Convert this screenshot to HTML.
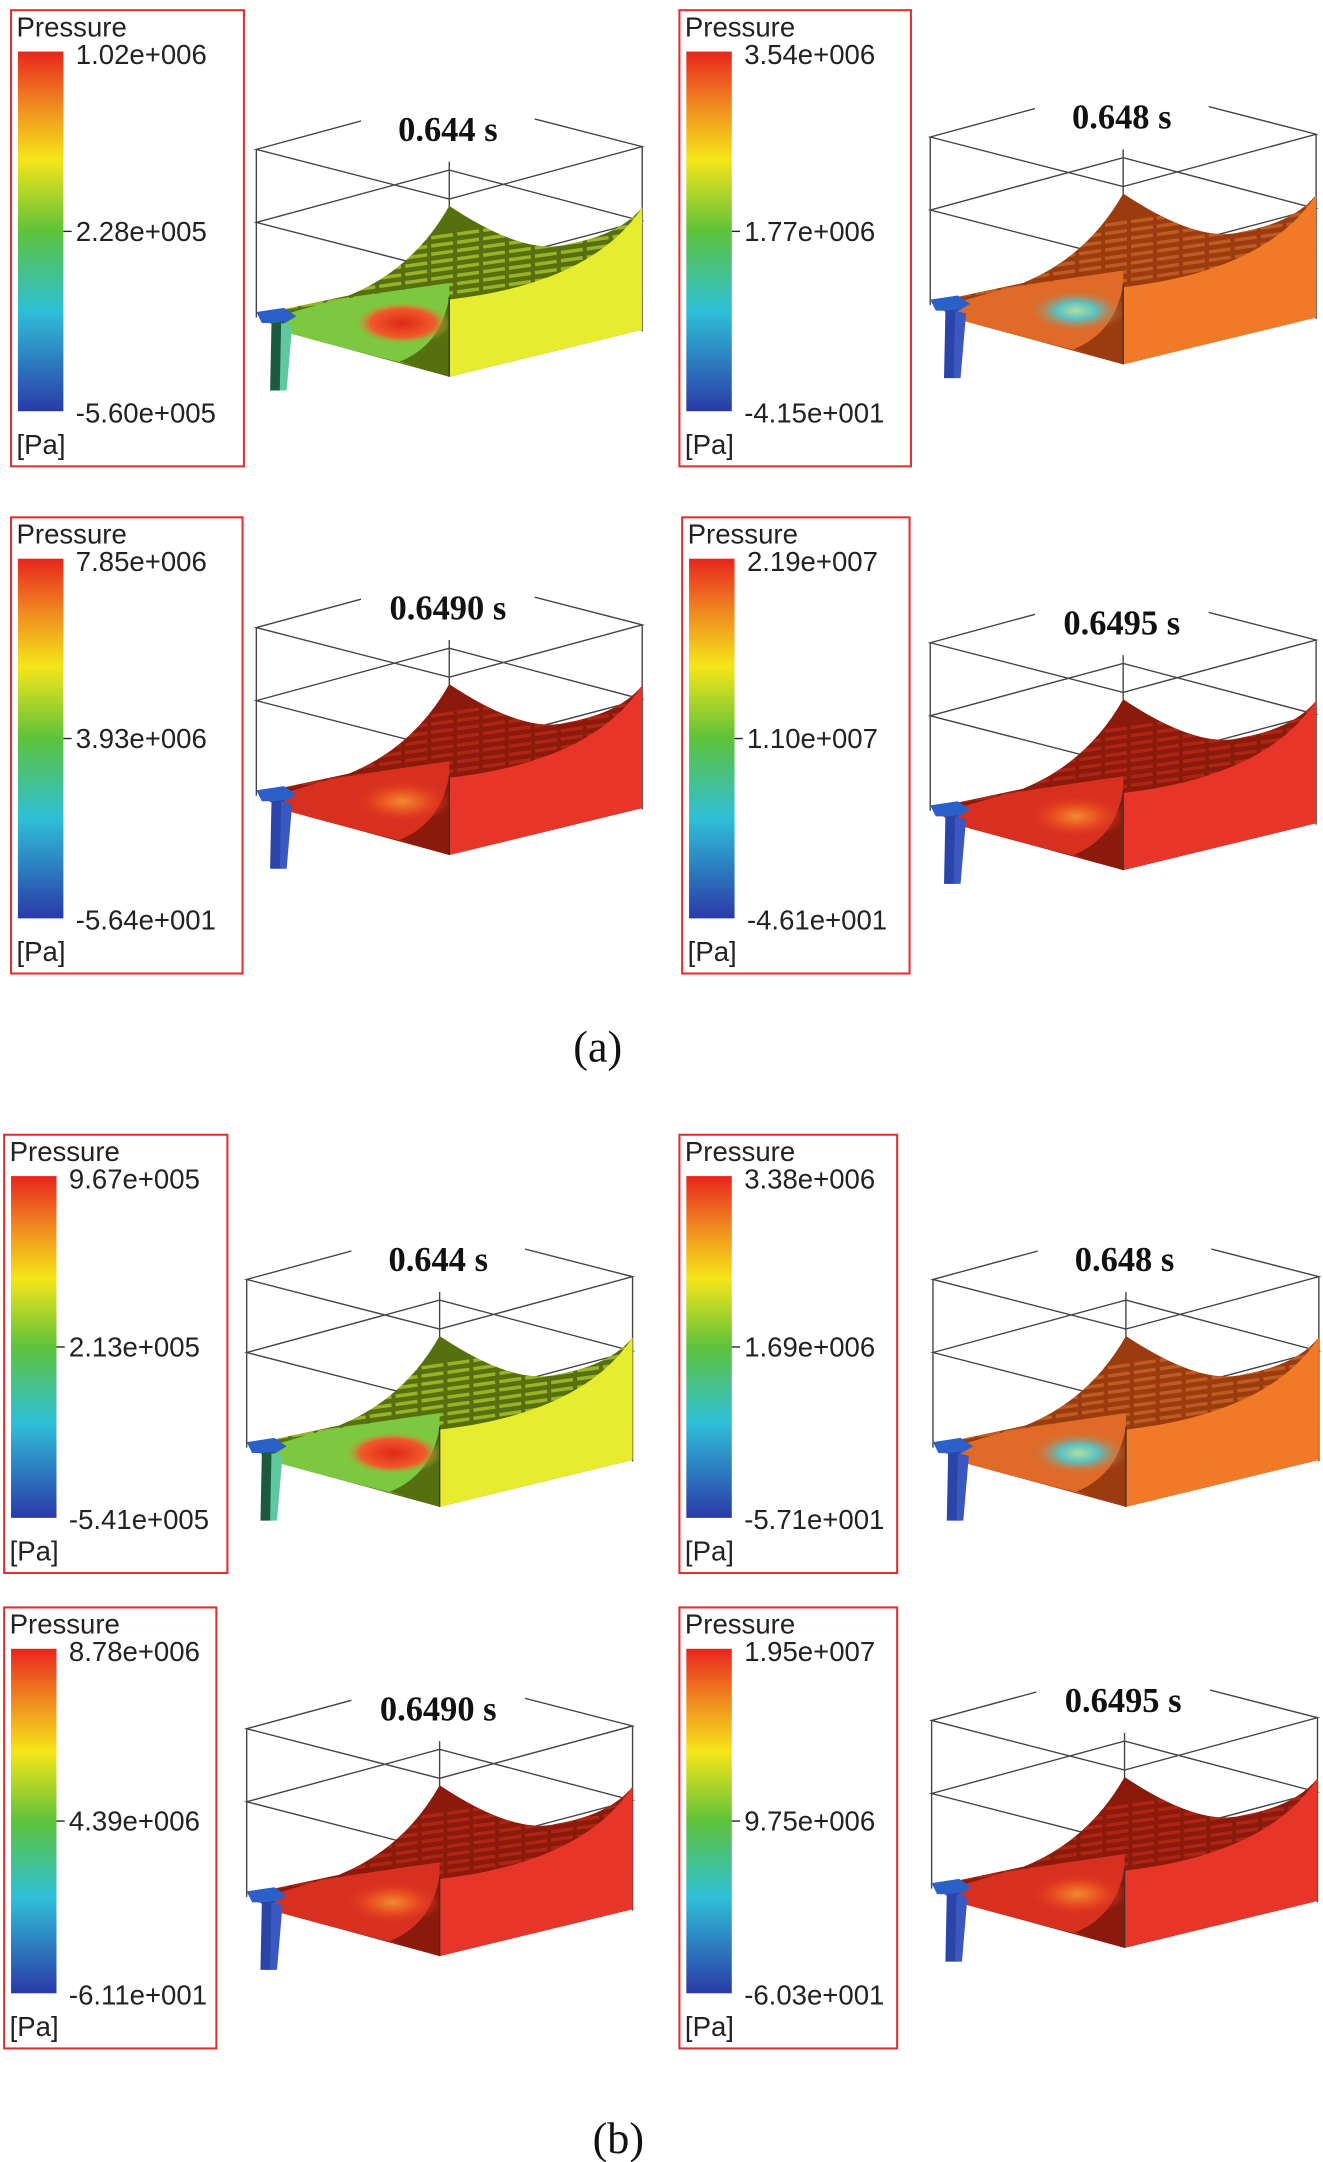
<!DOCTYPE html>
<html><head><meta charset="utf-8">
<style>
html,body{margin:0;padding:0;background:#fff;}
svg{display:block;}
.lab{font-family:"Liberation Sans",sans-serif;font-size:20px;fill:#222;}
.ttl{font-family:"Liberation Serif",serif;font-size:25px;font-weight:bold;fill:#111;}
.cap{font-family:"Liberation Serif",serif;font-size:32px;fill:#111;}
</style></head>
<body>
<svg id="fig" width="1323" height="2162" viewBox="0 0 960 1568" xmlns="http://www.w3.org/2000/svg">
<defs>
<linearGradient id="cbar" x1="0" y1="0" x2="0" y2="1">
<stop offset="0" stop-color="#e8251e"/><stop offset="0.15" stop-color="#f08a20"/>
<stop offset="0.3" stop-color="#f5e619"/><stop offset="0.5" stop-color="#5ec23a"/>
<stop offset="0.72" stop-color="#2fc0d8"/><stop offset="1" stop-color="#2a3aa8"/>
</linearGradient>
<radialGradient id="hotA"><stop offset="0" stop-color="#e02818"/><stop offset="0.65" stop-color="#f05a2a"/><stop offset="1" stop-color="#8ccc40" stop-opacity="0"/></radialGradient>
<radialGradient id="hotB"><stop offset="0" stop-color="#b0e0a0"/><stop offset="0.4" stop-color="#5cc0c0"/><stop offset="1" stop-color="#e06a28" stop-opacity="0"/></radialGradient>
<radialGradient id="hotC"><stop offset="0" stop-color="#f08a30"/><stop offset="0.5" stop-color="#e84a20"/><stop offset="1" stop-color="#d83020" stop-opacity="0"/></radialGradient>
<clipPath id="bowlclip"><path d="M187,228 L253,214 Q300,195 326,149 Q380,185 411,177 Q450,170 466,150 L466,239 L326,273 L205,240 Z"/></clipPath>
</defs>
<text class="cap" x="416" y="770">(a)</text>
<text class="cap" x="430" y="1562">(b)</text>
</svg>
<script>
const times=["0.644 s","0.648 s","0.6490 s","0.6495 s","0.644 s","0.648 s","0.6490 s","0.6495 s"];
const maxLabels=["1.02e+006","3.54e+006","7.85e+006","2.19e+007","9.67e+005","3.38e+006","8.78e+006","1.95e+007"];
const midLabels=["2.28e+005","1.77e+006","3.93e+006","1.10e+007","2.13e+005","1.69e+006","4.39e+006","9.75e+006"];
const minLabels=["-5.60e+005","-4.15e+001","-5.64e+001","-4.61e+001","-5.41e+005","-5.71e+001","-6.11e+001","-6.03e+001"];
const legendBoxes=[[8,7,169,331],[493,7,168,331],[8,375,168,331],[495,375,165,331],[3,823,162,318],[493,823,158,318],[3,1166,154,320],[493,1166,158,320]];
const offsets=[[0,0],[489,-9],[0,347],[489,358],[-7,820],[491,820],[-7,1146],[490,1140]];
const themes=[0,1,2,2,0,1,2,2];
const dark=["#56700f","#9a3c10","#8a1a0c"];
const stripe=["#b8d030","#d06828","#c02a18"];
const floorC=["#7cc840","#e06a28","#d83020"];
const face=["#e8ec30","#f07a28","#e8352a"];
const hot=["hotA","hotB","hotC"];
const NS="http://www.w3.org/2000/svg";
const svg=document.getElementById('fig');
function mk(tag,attrs,parent){const e=document.createElementNS(NS,tag);for(const k in attrs)e.setAttribute(k,attrs[k]);parent.appendChild(e);return e;}
function txt(cls,x,y,s,parent){const t=mk('text',{class:cls,x:x,y:y},parent);t.textContent=s;return t;}
for(let i=0;i<8;i++){
  const [lx,ly,lw,lh]=legendBoxes[i];
  const lg=mk('g',{},svg);
  
  
  mk('rect',{x:lx,y:ly,width:lw,height:lh,fill:'none',stroke:'#e03030','stroke-width':1.5},lg);
  const cy0=ly+30,cy1=ly+lh-40;
  const cb=mk('rect',{x:lx+5,y:cy0,width:33,height:cy1-cy0,fill:'url(#cbar)'},lg);
  
  
  txt('lab',lx+4,ly+19,'Pressure',lg);
  txt('lab',lx+47,cy0+9,maxLabels[i],lg);
  txt('lab',lx+47,(cy0+cy1)/2+7,midLabels[i],lg);
  txt('lab',lx+47,cy1+8,minLabels[i],lg);
  txt('lab',lx+4,ly+lh-9,'[Pa]',lg);
  mk('line',{x1:lx+38,y1:(cy0+cy1)/2,x2:lx+44,y2:(cy0+cy1)/2,stroke:'#222'},lg);
  const [dx,dy]=offsets[i];const th=themes[i];
  const g=mk('g',{transform:`translate(${dx},${dy})`},svg);
  
  
  const ln={stroke:'#444','stroke-width':1,fill:'none'};
  mk('path',Object.assign({d:'M186,108 L326,70 L466,106 L326,144 Z M186,161 L326,123 L466,160 L326,197 Z M186,108 L186,230 M466,106 L466,240 M326,117 L326,273'},ln),g);
  mk('path',{d:'M187,228 L253,214 Q300,195 326,149 Q380,185 411,177 Q450,170 466,150 L466,239 L326,273 L205,240 Z',fill:dark[th]},g);
  const sg=mk('g',{'clip-path':'url(#bowlclip)'},g);
  for(let k=0;k<11;k++){const y=158+k*6;mk('path',{d:`M${200},${y+30} L${470},${y-8}`,stroke:stripe[th],'stroke-width':2.5,'stroke-dasharray':'16 3',opacity:0.7},sg);}
  mk('path',{d:'M192,232 L240,218 Q290,210 326,205 L326,262 L300,265 Q240,250 205,240 Z',fill:floorC[th]},g);
  mk('path',{d:'M290,262 Q320,250 326,215 L326,273 Z',fill:dark[th]},g);
  mk('ellipse',{cx:292,cy:234,rx:36,ry:16,fill:'url(#'+hot[th]+')'},g);
  mk('path',{d:'M326,217 Q430,205 466,150 L466,239 L326,273 Z',fill:face[th]},g);
  mk('path',{d:'M326,215 L326,273',stroke:'#333','stroke-width':1},g);
  mk('path',{d:'M186,226 L206,223 L215,229 L207,234 L190,234 Z',fill:'#2a60c8'},g);
  mk('path',{d:'M197,234 L206,233 L204,283 L196,283 Z',fill:th==0?'#1c5a40':'#2a44a8'},g);
  mk('path',{d:'M204,234 L212,236 L208,283 L203,283 Z',fill:th==0?'#60c8a0':'#3a58c0'},g);
  mk('rect',{x:262,y:62,width:126,height:48,fill:'#fff'},g);
  txt('ttl',325,102,times[i],g).setAttribute('text-anchor','middle');
}
</script>
</body></html>
